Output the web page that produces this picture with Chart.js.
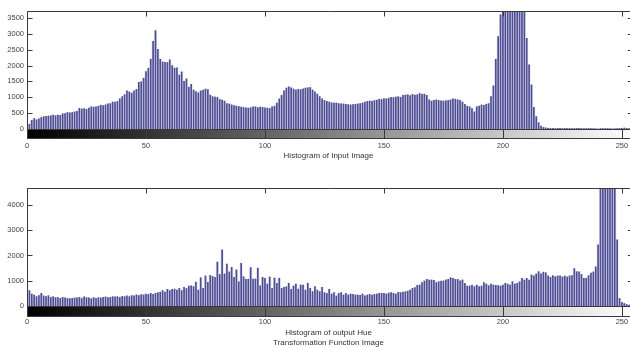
<!DOCTYPE html>
<html lang="en">
<head>
    <meta charset="UTF-8">
    <title>Histograms</title>
    <script src="https://cdn.jsdelivr.net/npm/chart.js@4.4.1/dist/chart.umd.min.js"></script>
    <style>
        body { margin: 0; background: #fff; }
        .plot { position: absolute; left: 0; }
    </style>
</head>
<body>
<div class="plot" style="top:0"><canvas id="inputHist" width="630" height="170"></canvas></div>
<div class="plot" style="top:170px"><canvas id="outputHist" width="630" height="178"></canvas></div>
<script>
    // gray levels 0..255
    var bins = [];
    for (var i = 0; i < 256; i++) bins.push(i);

    var inputCounts = [
        120, 150, 270, 330, 290, 320, 360, 390, 400, 410,
        420, 440, 420, 440, 430, 480, 490, 520, 510, 520,
        540, 560, 650, 630, 640, 620, 660, 700, 690, 700,
        720, 750, 740, 760, 790, 800, 850, 850, 870, 950,
        1020, 1080, 1200, 1170, 1130, 1200, 1250, 1470, 1490, 1600,
        1810, 1915, 2200, 2760, 3100, 2515, 2200, 2115, 2100, 2095,
        2180, 2000, 1920, 1930, 1700, 1800, 1500, 1580, 1320, 1410,
        1230, 1180, 1140, 1200, 1230, 1260, 1240, 1070, 1020, 1010,
        1000, 930, 910, 880, 800, 790, 760, 740, 720, 710,
        690, 680, 670, 660, 670, 700, 700, 670, 690, 680,
        670, 660, 650, 700, 720, 820, 950, 1060, 1200, 1290,
        1330, 1300, 1260, 1230, 1250, 1240, 1270, 1290, 1300, 1310,
        1230, 1170, 1100, 1020, 950, 900, 870, 850, 830, 820,
        820, 800, 790, 790, 780, 770, 760, 770, 780, 790,
        800, 820, 850, 870, 880, 870, 900, 910, 940, 930,
        960, 950, 970, 1000, 990, 1010, 1020, 1000, 1060, 1070,
        1080, 1050, 1090, 1070, 1080, 1120, 1090, 1100, 1060, 920,
        880, 900, 920, 900, 890, 880, 890, 900, 920, 950,
        940, 920, 900, 850, 780, 720, 700, 640, 540, 700,
        720, 760, 750, 780, 800, 1020, 1360, 2200, 2910, 3600,
        4000, 4600, 5000, 5300, 5200, 4900, 4500, 4200, 4000, 3900,
        2860, 2020, 1390, 680, 390, 200, 95, 50, 35, 25,
        20, 20, 15, 20, 20, 15, 20, 15, 20, 15,
        15, 20, 20, 15, 10, 15, 20, 15, 15, 10,
        0, 15, 10, 15, 15, 10, 5, 10, 15, 20,
        20, 30, 20, 10, 10, 5
    ];

    var outputCounts = [
        830, 610, 475, 435, 370, 410, 500, 400, 370, 410,
        340, 370, 330, 330, 300, 340, 320, 300, 290, 300,
        320, 320, 340, 300, 360, 330, 320, 290, 330, 300,
        330, 320, 340, 360, 330, 340, 370, 360, 370, 340,
        380, 370, 400, 370, 410, 400, 440, 410, 450, 440,
        475, 460, 500, 460, 500, 530, 550, 610, 550, 660,
        610, 660, 670, 630, 700, 610, 740, 690, 790, 800,
        770, 950, 630, 1120, 700, 1190, 940, 1210, 1170, 1140,
        1740, 1250, 2220, 1270, 1660, 1350, 1530, 1135, 1430, 960,
        1690, 1160, 1060, 1060, 1520, 1070, 1070, 1500, 800, 1135,
        1100, 870, 1150, 700, 1110, 900, 1100, 700, 740, 765,
        900, 660, 790, 870, 670, 830, 830, 630, 900, 700,
        570, 765, 630, 570, 740, 530, 500, 660, 475, 530,
        400, 500, 530, 435, 500, 435, 475, 460, 435, 435,
        420, 475, 400, 435, 460, 435, 460, 475, 500, 500,
        500, 475, 510, 530, 500, 475, 540, 530, 550, 565,
        590, 630, 700, 725, 820, 830, 925, 990, 1055, 1030,
        1030, 1020, 925, 960, 990, 990, 1030, 1055, 1120, 1095,
        1055, 1055, 1000, 1030, 900, 790, 790, 830, 765, 830,
        765, 790, 925, 870, 805, 870, 830, 820, 805, 790,
        830, 900, 870, 830, 960, 870, 900, 960, 1095, 1030,
        1095, 1030, 1230, 1190, 1270, 1360, 1270, 1340, 1320, 1190,
        1135, 1200, 1160, 1190, 1190, 1150, 1190, 1150, 1190, 1200,
        1480, 1360, 1350, 1250, 1100, 1100, 1200, 1300, 1350, 1550,
        2420, 4800, 6000, 8000, 9000, 8500, 7000, 5500, 2620, 300,
        150, 100, 60, 40, 30, 30
    ];

    var xTickValues = [0, 50, 100, 150, 200, 250];
    var inputYTicks = [0, 500, 1000, 1500, 2000, 2500, 3000, 3500];
    var outputYTicks = [0, 1000, 2000, 3000, 4000];

    var fontFamily = "'Liberation Sans', Arial, sans-serif";

    // axes box, gray colorbar and inward tick marks, MATLAB style
    var histFrame = {
        id: 'histFrame',
        afterDatasetsDraw: function (chart, args, opts) {
            var ctx = chart.ctx, a = chart.chartArea;
            var x = chart.scales.x, y = chart.scales.y;
            var x0 = x.getPixelForValue(0), x1 = x.getPixelForValue(255);
            var L = Math.round(x0) + 0.5, T = Math.round(a.top) + 0.5;
            var B = Math.round(a.bottom) + 0.5, CB = Math.round(a.bottom + opts.barHeight) + 0.5;

            ctx.save();
            var g = ctx.createLinearGradient(x0, 0, x1, 0);
            g.addColorStop(0, '#000');
            g.addColorStop(1, '#fff');
            ctx.fillStyle = g;
            ctx.fillRect(x0, B, x1 - x0, CB - B);

            ctx.strokeStyle = '#3a3a3a';
            ctx.lineWidth = 1;
            ctx.beginPath();
            ctx.moveTo(L, CB); ctx.lineTo(L, T); ctx.lineTo(x1, T);
            ctx.moveTo(L, B); ctx.lineTo(x1, B);
            ctx.moveTo(L, CB); ctx.lineTo(x1, CB);
            xTickValues.forEach(function (v) {
                var px = Math.round(x.getPixelForValue(v)) + 0.5;
                ctx.moveTo(px, T); ctx.lineTo(px, T + 5);
                ctx.moveTo(px, B); ctx.lineTo(px, CB);
            });
            y.ticks.forEach(function (t) {
                var py = Math.round(y.getPixelForValue(t.value)) + 0.5;
                ctx.moveTo(L, py); ctx.lineTo(L + 5, py);
                ctx.moveTo(x1, py); ctx.lineTo(x1 - 6, py);
            });
            ctx.stroke();
            ctx.restore();
        }
    };

    function makeHist(id, counts, yMax, yTicks, title, cfg) {
        var pts = bins.map(function (b, i) { return {x: b, y: counts[i]}; });
        return new Chart(document.getElementById(id), {
            type: 'bar',
            data: {
                datasets: [
                    {data: pts, backgroundColor: 'rgb(226,226,240)', barThickness: 2.4, grouped: false, order: 2},
                    {data: pts, backgroundColor: 'rgb(78,78,148)', barThickness: 1, grouped: false, order: 1}
                ]
            },
            options: {
                responsive: false,
                animation: false,
                layout: {padding: {top: cfg.top, left: 0, right: 0, bottom: 0}},
                plugins: {
                    legend: {display: false},
                    tooltip: {enabled: false},
                    histFrame: {barHeight: cfg.barHeight}
                },
                scales: {
                    x: {
                        type: 'linear',
                        min: 0,
                        max: 253.4,
                        offset: false,
                        grid: {display: false, drawTicks: false},
                        border: {display: false},
                        afterBuildTicks: function (s) { s.ticks = xTickValues.map(function (v) { return {value: v}; }); },
                        afterFit: function (s) {
                            s.height = cfg.xHeight;
                            s.paddingLeft = 0;
                            s.paddingRight = 0;
                        },
                        ticks: {
                            font: {family: fontFamily, size: 7.5},
                            color: '#444',
                            padding: cfg.labelPad,
                            maxRotation: 0,
                            autoSkip: false,
                            callback: function (v) { return String(v); }
                        },
                        title: {
                            display: true,
                            text: title,
                            color: '#333',
                            font: {family: fontFamily, size: 8, lineHeight: 1.25},
                            padding: {top: 0, bottom: cfg.titlePad}
                        }
                    },
                    y: {
                        min: 0,
                        max: yMax,
                        grid: {display: false, drawTicks: false},
                        border: {display: false},
                        afterBuildTicks: function (s) { s.ticks = yTicks.map(function (v) { return {value: v}; }); },
                        afterFit: function (s) {
                            s.width = 27;
                            s.paddingTop = 0;
                            s.paddingBottom = 0;
                        },
                        ticks: {
                            font: {family: fontFamily, size: 7.5},
                            color: '#444',
                            padding: 3,
                            callback: function (v) { return String(v); }
                        }
                    }
                }
            },
            plugins: [histFrame]
        });
    }

    makeHist('inputHist', inputCounts, 3720, inputYTicks, 'Histogram of Input Image',
        {top: 11, xHeight: 41, barHeight: 9, labelPad: 12, titlePad: 9});
    makeHist('outputHist', outputCounts, 4673, outputYTicks,
        ['Histogram of output Hue', 'Transformation Function Image'],
        {top: 18, xHeight: 42, barHeight: 10, labelPad: 11, titlePad: 0});
</script>
</body>
</html>
